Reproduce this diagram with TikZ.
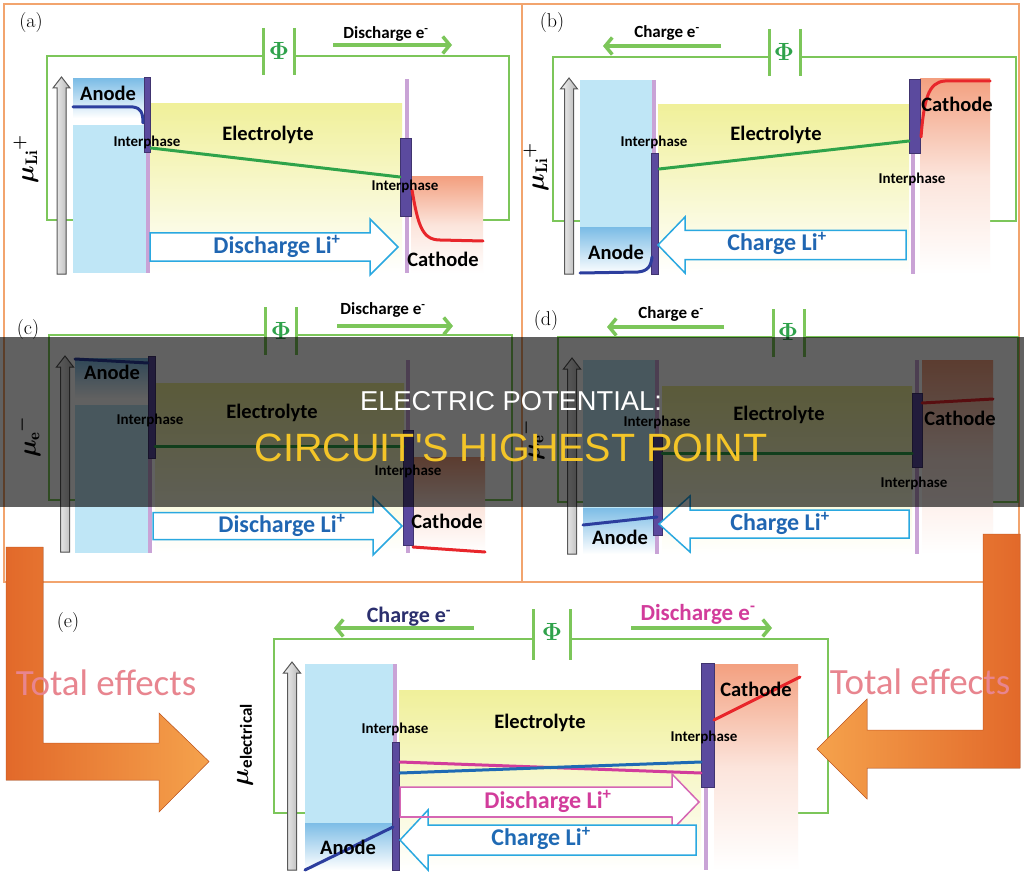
\documentclass[tikz,border=0pt]{standalone}
\usepackage{fontspec}
\setsansfont{Carlito}
\newfontfamily\bannerfont{Liberation Sans}
\usetikzlibrary{arrows.meta}
\newcommand\fsz[1]{\fontsize{#1}{#1}\selectfont}
\definecolor{frameor}{HTML}{F2A46E}
\definecolor{circgreen}{HTML}{7CC65A}
\definecolor{phigreen}{HTML}{2FA24B}
\definecolor{linegreen}{HTML}{2FA34A}
\definecolor{anodeblue}{HTML}{BFE6F6}
\definecolor{anodedark}{HTML}{7DBDE6}
\definecolor{curveblue}{HTML}{2C3E9E}
\definecolor{elyellow}{HTML}{F0F09A}
\definecolor{salmon}{HTML}{F3A080}
\definecolor{redline}{HTML}{E8262B}
\definecolor{iplight}{HTML}{C9A3D6}
\definecolor{ipdark}{HTML}{5B4A9E}
\definecolor{cyanout}{HTML}{2AA8E0}
\definecolor{liblue}{HTML}{2066B2}
\definecolor{magtxt}{HTML}{D23C9B}
\definecolor{magout}{HTML}{D566B4}
\definecolor{navytxt}{HTML}{2B2F6E}
\definecolor{orangeD}{HTML}{E2692A}
\definecolor{orangeL}{HTML}{F5A24C}
\definecolor{pinktxt}{HTML}{E8858F}
\definecolor{yellowtxt}{HTML}{F4C528}
\definecolor{eblue}{HTML}{1F6AB4}
\newcommand\grayarr[3]{%
  \filldraw[graya] (#1-4.5,#3) -- (#1-4.5,#2+11) -- (#1-8.5,#2+11) -- (#1,#2) -- (#1+8.5,#2+11) -- (#1+4.5,#2+11) -- (#1+4.5,#3) -- cycle;}
\newcommand\blockarr[7]{%
  \filldraw[#1] (#2,#5-#6) -- (#3,#5-#6) -- (#3,#5-#7) -- (#4,#5) -- (#3,#5+#7) -- (#3,#5+#6) -- (#2,#5+#6) -- cycle;}
\tikzset{
  frame/.style={draw=frameor, line width=1.3pt},
  circ/.style={draw=circgreen, line width=1.6pt},
  plate/.style={draw=circgreen, line width=3pt},
  phi/.style={text=phigreen, font=\fsz{24}\boldmath, inner sep=0pt},
  etxt/.style={font=\sffamily\bfseries\fsz{17}, inner sep=0pt},
  earrow/.style={draw=circgreen, line width=3.5pt, -{Straight Barb[length=7pt,width=17pt]}},
  big/.style={font=\sffamily\bfseries\fsz{20.5}, inner sep=0pt},
  ip/.style={font=\sffamily\bfseries\fsz{15}, inner sep=0pt},
  litxt/.style={font=\sffamily\bfseries\fsz{24}, inner sep=0pt, text=liblue},
  mulab/.style={font=\fsz{24}\boldmath, rotate=90, inner sep=0pt},
  plabel/.style={font=\fsz{20}, inner sep=0pt},
  graya/.style={left color=gray!8, right color=gray!60, draw=black!65, line width=1pt},
  liarrow/.style={draw=cyanout, fill=white, line width=1.5pt},
  magarrow/.style={draw=magout, fill=white, line width=1.5pt},
  elec/.style={top color=elyellow, bottom color=white, middle color=elyellow!50},
  cath/.style={top color=salmon, bottom color=white, middle color=salmon!28},
  anodefill/.style={fill=anodeblue},
  anodegrad/.style={top color=anodedark, bottom color=white},
  ipl/.style={fill=iplight},
  ipd/.style={fill=ipdark, draw=ipdark!70!black, line width=0.6pt},
  mucurve/.style={line width=3pt, line cap=round},
  totfx/.style={font=\sffamily\fsz{37}, text=pinktxt, inner sep=0pt}
}
\begin{document}
\begin{tikzpicture}[x=1pt,y=-1pt]
\useasboundingbox (0,0) rectangle (1024,877);
\fill[white] (0,0) rectangle (1024,877);
% frames
\draw[frame] (4,4) rectangle (522,582);
\draw[frame] (522,4) rectangle (1019,582);

% ================= panel (a)
\draw[circ] (263,56) -- (47,56) -- (47,220) -- (73,220);
\draw[circ] (294,56) -- (509,56) -- (509,220) -- (483,220);
\draw[plate] (263,28) -- (263,75); \draw[plate] (294,28) -- (294,75);
\node[phi] (aphi) at (279,51) {$\Phi$};
\node[etxt] (ade) at (386,34) {Discharge e\textsuperscript{-}};
\coordinate (aes) at (333,45); \coordinate (aee) at (452,45);
\draw[earrow] (aes) -- (aee);
\fill[elec] (150,104) rectangle (402,273);
\fill[anodegrad] (73,79) rectangle (147,118);
\fill[anodefill] (73,125) rectangle (147,273);
\fill[cath] (411,177) rectangle (483,273);
\fill[ipl] (145.5,79) rectangle (149.5,273);
\filldraw[ipd] (144.5,77) rectangle (150.5,152);
\fill[ipl] (405,79) rectangle (409,273);
\filldraw[ipd] (400,138) rectangle (411,216);
\draw[mucurve, curveblue] (73,107) -- (133,107) .. controls (141,108) and (143,113) .. (143,123);
\draw[mucurve, linegreen] (151,148) -- (400,177);
\draw[mucurve, redline] (412,190) .. controls (418,225) and (422,240) .. (440,240) -- (483,241);
\blockarr{liarrow}{150}{370}{398}{247}{14}{28}
\grayarr{61.5}{77}{274}
\node[big] (aanode) at (108,93) {Anode};
\node[ip] (aip1) at (147,142) {Interphase};
\node[big] (ael) at (268,135) {Electrolyte};
\node[ip] (aip2) at (405,186) {Interphase};
\node[big] (acat) at (443,259) {Cathode};
\node[litxt] (ali) at (277,246) {Discharge Li\textsuperscript{+}};
\node[mulab] (amu) at (26,159) {$\mu_{\mathrm{Li}}{}^{+}$};
\node[plabel] (alab) at (31,23) {(a)};

% ================= panel (b)
\draw[circ] (769,57) -- (553,57) -- (553,221) -- (580,221);
\draw[circ] (800,57) -- (1016,57) -- (1016,221) -- (990,221);
\draw[plate] (769,29) -- (769,76); \draw[plate] (800,29) -- (800,76);
\node[phi] (bphi) at (784,52) {$\Phi$};
\node[etxt] (bce) at (667,33) {Charge e\textsuperscript{-}};
\coordinate (bes) at (721,46); \coordinate (bee) at (603,46);
\draw[earrow] (bes) -- (bee);
\fill[elec] (658,105) rectangle (909,274);
\fill[anodefill] (580,80) rectangle (653,228);
\fill[anodegrad] (580,228) rectangle (653,274);
\fill[cath] (920,79) rectangle (990,274);
\fill[ipl] (652,80) rectangle (656,274);
\filldraw[ipd] (651,153) rectangle (658,274);
\fill[ipl] (911,80) rectangle (915,274);
\filldraw[ipd] (909,79) rectangle (920,153);
\draw[mucurve, curveblue] (580,273) -- (638,272) .. controls (648,271) and (651,266) .. (652,257);
\draw[mucurve, linegreen] (659,169) -- (909,141);
\draw[mucurve, redline] (921,137) .. controls (924,100) and (928,82) .. (945,81) -- (990,81);
\blockarr{liarrow}{906}{685}{658}{245}{14.5}{28}
\grayarr{569}{78}{274}
\node[big] (banode) at (616,252) {Anode};
\node[ip] (bip1) at (654,142) {Interphase};
\node[big] (bel) at (776,135) {Electrolyte};
\node[ip] (bip2) at (912,179) {Interphase};
\node[big] (bcat) at (957,104) {Cathode};
\node[litxt] (bli) at (777,243) {Charge Li\textsuperscript{+}};
\node[mulab] (bmu) at (536,167) {$\mu_{\mathrm{Li}}{}^{+}$};
\node[plabel] (blab) at (552,23) {(b)};

% ================= panel (c)
\draw[circ] (265,335) -- (49,335) -- (49,500) -- (75,500);
\draw[circ] (296,335) -- (512,335) -- (512,500) -- (485,500);
\draw[plate] (265,307) -- (265,355); \draw[plate] (296,307) -- (296,355);
\node[phi] (cphi) at (281,331) {$\Phi$};
\node[etxt] (cde) at (383,310) {Discharge e\textsuperscript{-}};
\coordinate (ces) at (337,326); \coordinate (cee) at (453,326);
\draw[earrow] (ces) -- (cee);
\fill[elec] (155,383) rectangle (404,553);
\fill[anodegrad] (75,358) rectangle (148,398);
\fill[anodefill] (75,405) rectangle (148,553);
\fill[cath] (413,457) rectangle (485,553);
\fill[ipl] (148,358) rectangle (152,553);
\filldraw[ipd] (148,356) rectangle (155,458);
\fill[ipl] (406,360) rectangle (410,553);
\filldraw[ipd] (403,430) rectangle (413,545);
\draw[mucurve, curveblue] (75,359) -- (148,363);
\draw[mucurve, linegreen] (155,446) -- (404,446);
\draw[mucurve, redline] (413,547) -- (485,552);
\blockarr{liarrow}{153}{373}{402}{526}{13.5}{29}
\grayarr{65}{356}{552}
\node[big] (canode) at (112,372) {Anode};
\node[ip] (cip1) at (150,420) {Interphase};
\node[big] (cel) at (272,413) {Electrolyte};
\node[ip] (cip2) at (408,471) {Interphase};
\node[big] (ccat) at (447,521) {Cathode};
\node[litxt] (cli) at (282,525) {Discharge Li\textsuperscript{+}};
\node[mulab] (cmu) at (28,437) {$\mu_{\mathrm{e}}{}^{-}$};
\node[plabel] (clab) at (28,330) {(c)};

% ================= panel (d)
\draw[circ] (773,337) -- (558,337) -- (558,502) -- (583,502);
\draw[circ] (804,337) -- (1018,337) -- (1018,502) -- (993,502);
\draw[plate] (773,309) -- (773,357); \draw[plate] (804,309) -- (804,357);
\node[phi] (dphi) at (788,332) {$\Phi$};
\node[etxt] (dce) at (671,314) {Charge e\textsuperscript{-}};
\coordinate (des) at (724,327); \coordinate (dee) at (607,327);
\draw[earrow] (des) -- (dee);
\fill[elec] (662,386) rectangle (912,554);
\fill[anodefill] (583,360) rectangle (657,508);
\fill[anodegrad] (583,508) rectangle (657,554);
\fill[cath] (922,360) rectangle (993,554);
\fill[ipl] (655,360) rectangle (659,554);
\filldraw[ipd] (653,434) rectangle (662,535);
\fill[ipl] (915,360) rectangle (919,554);
\filldraw[ipd] (912,393) rectangle (922,467);
\draw[mucurve, curveblue] (583,525) -- (657,517);
\draw[mucurve, linegreen] (662,453) -- (912,453);
\draw[mucurve, redline] (922,403) -- (993,399);
\blockarr{liarrow}{909}{690}{659}{524}{14}{28}
\grayarr{572}{358}{554}
\node[big] (danode) at (620,537) {Anode};
\node[ip] (dip1) at (657,422) {Interphase};
\node[big] (del) at (779,415) {Electrolyte};
\node[ip] (dip2) at (914,483) {Interphase};
\node[big] (dcat) at (960,418) {Cathode};
\node[litxt] (dli) at (780,523) {Charge Li\textsuperscript{+}};
\node[mulab] (dmu) at (532,440) {$\mu_{\mathrm{e}}{}^{-}$};
\node[plabel] (dlab) at (546,321) {(d)};

% ================= panel (e)
\draw[circ] (533,639) -- (274,639) -- (274,813) -- (305,813);
\draw[circ] (570,639) -- (828,639) -- (828,813) -- (798,813);
\draw[plate] (533,609) -- (533,660); \draw[plate] (570,609) -- (570,660);
\node[phi] (ephi) at (552,632) {$\Phi$};
\node[etxt, font=\sffamily\bfseries\fsz{22}, text=navytxt] (ece) at (409,617) {Charge e\textsuperscript{-}};
\node[etxt, font=\sffamily\bfseries\fsz{23}, text=magtxt] (ede) at (698,614) {Discharge e\textsuperscript{-}};
\coordinate (ecs) at (474,628); \coordinate (ece2) at (334,628);
\draw[earrow] (ecs) -- (ece2);
\coordinate (eds) at (631,628); \coordinate (ede2) at (772,628);
\draw[earrow] (eds) -- (ede2);
\fill[elec] (399,690) rectangle (701,870);
\fill[anodefill] (305,664) rectangle (393,823);
\fill[anodegrad] (305,823) rectangle (393,870);
\fill[cath] (714,664) rectangle (798,870);
\fill[ipl] (393,664) rectangle (397,743);
\filldraw[ipd] (392,742) rectangle (399,870);
\fill[ipl] (704,787) rectangle (708,870);
\filldraw[ipd] (701,663) rectangle (714,787);
\draw[mucurve, curveblue] (305,870) -- (393,827);
\draw[mucurve, magtxt] (400,762) -- (701,773);
\draw[mucurve, eblue] (400,773) -- (701,762);
\draw[mucurve, redline] (714,720) -- (800,677);
\blockarr{magarrow}{400}{672}{699}{802}{15}{28}
\blockarr{liarrow}{696}{428}{400}{840}{15}{30}
\draw[magout, line width=1.5pt] (400,817) -- (672,817);
\grayarr{292}{662}{870}
\node[big] (eanode) at (348,847) {Anode};
\node[ip] (eip1) at (395,729) {Interphase};
\node[big] (eel) at (540,723) {Electrolyte};
\node[ip] (eip2) at (704,737) {Interphase};
\node[big] (ecat) at (756,689) {Cathode};
\node[litxt, text=magtxt] (edli) at (548,801) {Discharge Li\textsuperscript{+}};
\node[litxt, text=eblue] (ecli) at (541,838) {Charge Li\textsuperscript{+}};
\node[mulab, font=\fsz{26}\boldmath] (emu) at (245,745) {$\mu_{\mbox{\sffamily\bfseries\fsz{17}electrical}}$};
\node[plabel] (elab) at (68,623) {(e)};

% ================= orange "total effects" arrows
\filldraw[left color=orangeD, right color=orangeL, draw=orangeD!90!black, line width=0.5pt]
  (6,547) -- (43,547) -- (43,743) -- (159,743) -- (159,713) -- (209,761.5) -- (159,812) -- (159,780) -- (6,780) -- cycle;
\filldraw[left color=orangeL, right color=orangeD, draw=orangeD!90!black, line width=0.5pt]
  (983,534) -- (1020,534) -- (1020,768) -- (867,768) -- (867,799) -- (817,749) -- (867,699) -- (867,730) -- (983,730) -- cycle;
\node[totfx] (tfl) at (106,683) {Total effects};
\node[totfx] (tfr) at (920,682) {Total effects};

% ================= banner
\fill[black, opacity=0.62] (0,337) rectangle (1024,507);
\node[font=\bannerfont\fsz{27.3}, text=white, inner sep=0pt] (ban1) at (511,401) {ELECTRIC POTENTIAL:};
\node[font=\bannerfont\fsz{39.5}, text=yellowtxt, inner sep=0pt] (ban2) at (511,447.5) {CIRCUIT\textquotesingle S HIGHEST POINT};
\end{tikzpicture}
\end{document}
